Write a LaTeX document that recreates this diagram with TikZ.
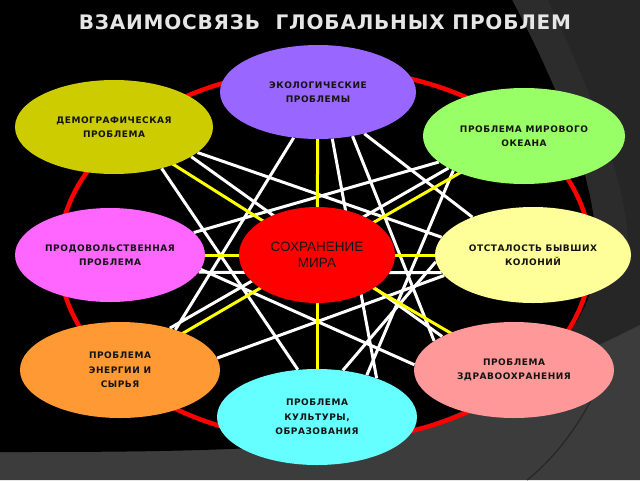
\documentclass[tikz,border=0pt]{standalone}
\usepackage{fontspec}
\setmainfont{DejaVu Sans}
\newfontfamily\arialf{Liberation Sans}
\usetikzlibrary{shapes.geometric}
\pgfdeclarelayer{bgzero}
\pgfdeclarelayer{bgone}
\pgfsetlayers{bgzero,bgone,main}
\definecolor{bgdark}{HTML}{262626}
\definecolor{bgband}{HTML}{2C2C2C}
\definecolor{bglight}{HTML}{3C3C3C}
\definecolor{titlec}{HTML}{E6E6E6}
\definecolor{labelc}{HTML}{141414}
\definecolor{ecoc}{HTML}{9966FF}
\definecolor{democ}{HTML}{CCCC00}
\definecolor{oceanc}{HTML}{99FF66}
\definecolor{foodc}{HTML}{FF66FF}
\definecolor{peacec}{HTML}{FF0000}
\definecolor{otstc}{HTML}{FFFF99}
\definecolor{enerc}{HTML}{FF9933}
\definecolor{healc}{HTML}{FF9999}
\definecolor{cultc}{HTML}{66FFFF}
\definecolor{ringc}{HTML}{FF0000}
\definecolor{ylinec}{HTML}{FFFF00}
\tikzset{
  prob/.style={ellipse, inner sep=0pt, align=center, text=labelc,
    font=\fontsize{9}{14.5}\selectfont\bfseries\addfontfeatures{LetterSpace=6}},
  wline/.style={draw=white, line width=3pt},
  yline/.style={draw=ylinec, line width=3pt},
  ringline/.style={draw=ringc, line width=4.5pt},
}
\begin{document}
\begin{tikzpicture}[x=1pt,y=-1pt]
\useasboundingbox (0,0) rectangle (640,480);
% nodes
\node[prob, fill=ecoc, minimum width=196pt, minimum height=94pt] (eco) at (318,92) {ЭКОЛОГИЧЕСКИЕ\\ПРОБЛЕМЫ};
\node[prob, fill=democ, minimum width=198pt, minimum height=94pt] (demo) at (114,127) {ДЕМОГРАФИЧЕСКАЯ\\ПРОБЛЕМА};
\node[prob, fill=oceanc, minimum width=202pt, minimum height=96pt] (ocean) at (524,136) {ПРОБЛЕМА МИРОВОГО\\ОКЕАНА};
\node[prob, fill=foodc, minimum width=190pt, minimum height=94pt] (food) at (110,255) {ПРОДОВОЛЬСТВЕННАЯ\\ПРОБЛЕМА};
\node[ellipse, inner sep=0pt, align=center, fill=peacec, text=labelc, minimum width=156pt, minimum height=96pt,
  font=\arialf\fontsize{13.5}{16}\selectfont] (peace) at (317,255) {СОХРАНЕНИЕ\\МИРА};
\node[prob, fill=otstc, minimum width=196pt, minimum height=96pt] (otst) at (533,255) {ОТСТАЛОСТЬ БЫВШИХ\\КОЛОНИЙ};
\node[prob, fill=enerc, minimum width=200pt, minimum height=96pt] (ener) at (120,370) {ПРОБЛЕМА\\ЭНЕРГИИ И\\СЫРЬЯ};
\node[prob, fill=healc, minimum width=200pt, minimum height=96pt] (heal) at (514,370) {ПРОБЛЕМА\\ЗДРАВООХРАНЕНИЯ};
\node[prob, fill=cultc, minimum width=200pt, minimum height=96pt] (cult) at (317,417) {ПРОБЛЕМА\\КУЛЬТУРЫ,\\ОБРАЗОВАНИЯ};
\node[font=\fontsize{20}{24}\selectfont\bfseries\addfontfeatures{LetterSpace=4}, text=titlec] (title) at (325,22)
  {ВЗАИМОСВЯЗЬ\ \ ГЛОБАЛЬНЫХ ПРОБЛЕМ};
% background
\begin{pgfonlayer}{bgzero}
  \fill[bgdark] (0,0) rectangle (640,480);
  \fill[bglight] (640,325) .. controls (600,345) and (520,385) .. (400,420) -- (0,420) -- (0,480) -- (640,480) -- cycle;
  \fill[bgband] (512,0) -- (548,0) .. controls (590,90) and (632,190) .. (628,262) -- (596,262) .. controls (600,190) and (560,90) .. (512,0) -- cycle;
  \fill[black] (0,0) -- (512,0) .. controls (560,90) and (600,190) .. (596,262)
     .. controls (592,335) and (520,395) .. (420,427) .. controls (330,452) and (150,452) .. (0,452) -- cycle;
  \draw[bgdark, line width=1.2pt] (604,372) .. controls (585,420) and (555,458) .. (527,480);
\end{pgfonlayer}
% ring and connectors
\begin{pgfonlayer}{bgone}
  \draw[ringline] (325,255) ellipse [x radius=266pt, y radius=186pt];
  \draw[wline] (eco.242) -- (ener.36);
  \draw[wline] (eco.287) -- (cult.33);
  \draw[wline] (eco.308) -- (heal.160);
  \draw[wline] (eco.318) -- (otst.148);
  \draw[wline] (demo.319) -- (cult.112);
  \draw[wline] (demo.343) -- (otst.169);
  \draw[wline] (demo.339) -- (heal.155);
  \draw[wline] (food.15) -- (ocean.197);
  \draw[wline] (food.349) -- (otst.191);
  \draw[wline] (food.351) -- (heal.177);
  \draw[wline] (ener.40) -- (ocean.203);
  \draw[wline] (ener.7) -- (otst.193);
  \draw[wline] (otst.184) -- (cult.61);
  \draw[wline] (ocean.206) -- (cult.40);
  \draw[yline] (peace.center) -- (eco.center);
  \draw[yline] (peace.center) -- (demo.center);
  \draw[yline] (peace.center) -- (ocean.center);
  \draw[yline] (peace.center) -- (food.center);
  \draw[yline] (peace.center) -- (otst.center);
  \draw[yline] (peace.center) -- (ener.center);
  \draw[yline] (peace.center) -- (heal.center);
  \draw[yline] (peace.center) -- (cult.center);
\end{pgfonlayer}
\end{tikzpicture}
\end{document}
